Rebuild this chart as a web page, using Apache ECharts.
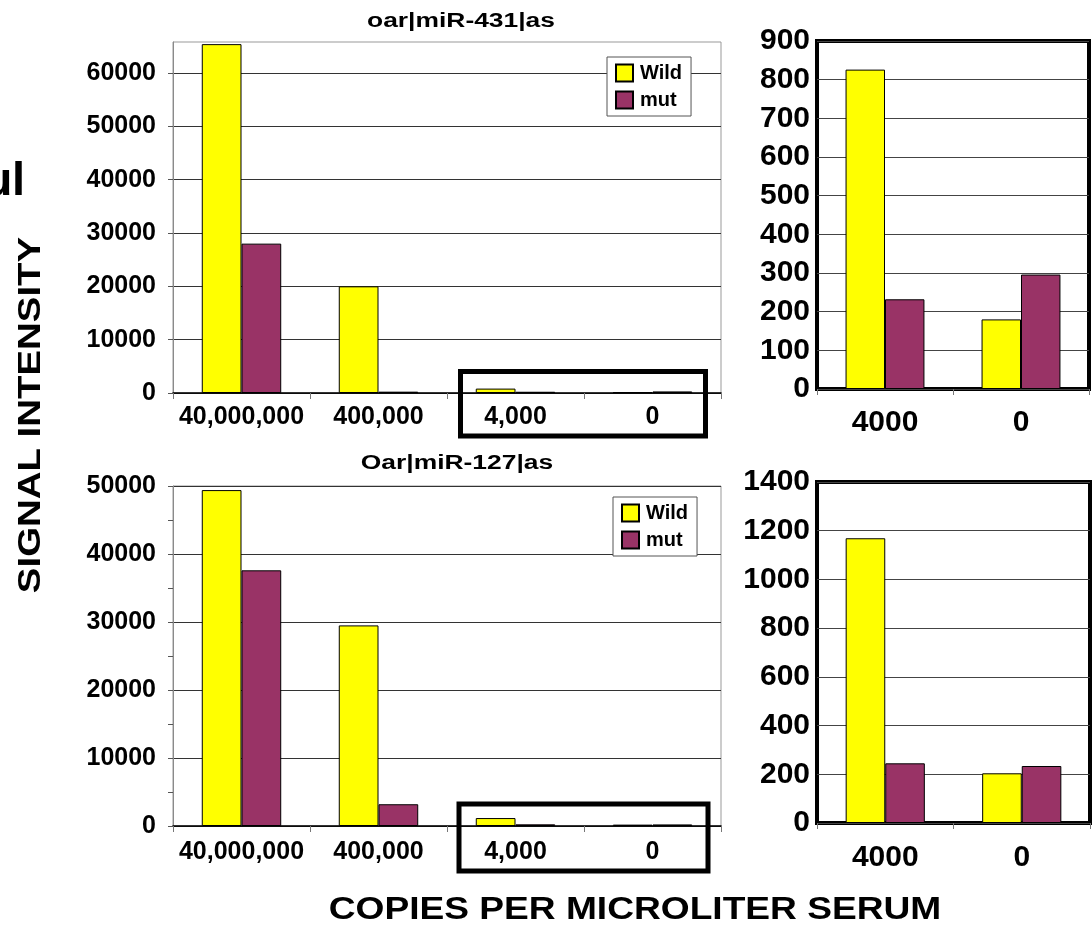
<!DOCTYPE html>
<html>
<head>
<meta charset="utf-8">
<script src="https://cdn.jsdelivr.net/npm/echarts@6/dist/echarts.min.js"></script>
<style>
html,body{margin:0;padding:0;background:#fff;}
#chart{width:1092px;height:926px;}
</style>
</head>
<body>
<div id="chart"></div>
<script>
// ---- data ----
const categoriesLeft = ['40,000,000', '400,000', '4,000', '0'];
const categoriesRight = ['4000', '0'];
const seriesNames = ['Wild', 'mut'];
const title431 = 'oar|miR-431|as';
const title127 = 'Oar|miR-127|as';
const wild431 = [65400, 20000, 826, 180];
const mut431 = [28000, 250, 232, 296];
const wild127 = [49400, 29500, 1169, 204];
const mut127 = [37600, 3200, 245, 234];
const ticks431 = [0, 10000, 20000, 30000, 40000, 50000, 60000];
const ticks127 = [0, 10000, 20000, 30000, 40000, 50000];
const yTitle = 'SIGNAL INTENSITY';
const xTitle = 'COPIES PER MICROLITER SERUM';
const unitText = 'µl';

const FONT = '"Liberation Sans", Arial, Helvetica, sans-serif';
const YELLOW = '#FFFF00';
const PLUM = '#993366';
const plain = v => String(v);

const chart = echarts.init(document.getElementById('chart'), null, {renderer: 'canvas'});

function leftY(max, ticks, minor) {
  return {
    type: 'value', min: 0, max: max,
    axisLine: {show: true, lineStyle: {color: '#8a8a8a', width: 1}},
    axisTick: {show: true, inside: false, length: 5, lineStyle: {color: '#555'}, customValues: ticks},
    minorTick: {show: !!minor, splitNumber: 2, length: 5, lineStyle: {color: '#555'}},
    axisLabel: {fontFamily: FONT, fontWeight: 'bold', fontSize: 25, color: '#000', margin: 17, customValues: ticks, formatter: plain},
    splitLine: {show: true, lineStyle: {color: '#333', width: 1}}
  };
}
function rightY(max, interval) {
  return {
    type: 'value', min: 0, max: max, interval: interval,
    axisLine: {show: false},
    axisTick: {show: false},
    axisLabel: {fontFamily: FONT, fontWeight: 'bold', fontSize: 30, color: '#000', margin: 7, formatter: plain},
    splitLine: {show: true, lineStyle: {color: '#444', width: 1}}
  };
}
function catX(data, gridIndex, fontSize, margin, lineColor, lineWidth) {
  return {
    type: 'category', data: data, gridIndex: gridIndex,
    axisLine: {show: true, lineStyle: {color: lineColor, width: lineWidth}},
    axisTick: {show: true, inside: false, length: 6, lineStyle: {color: '#777'}},
    axisLabel: {fontFamily: FONT, fontWeight: 'bold', fontSize: fontSize, color: '#000', margin: margin, interval: 0}
  };
}
function bar(name, data, color, xi, yi) {
  return {
    name: name, type: 'bar', data: data, xAxisIndex: xi, yAxisIndex: yi,
    barGap: '0%', barCategoryGap: '42%',
    itemStyle: {color: color, borderColor: '#000', borderWidth: 1},
    emphasis: {disabled: true}
  };
}
function legendAt(left, top) {
  return {
    data: seriesNames, orient: 'vertical', left: left, top: top,
    icon: 'rect', itemWidth: 17, itemHeight: 17, itemGap: 7,
    padding: [6, 9, 6, 8],
    backgroundColor: '#fff', borderColor: '#555', borderWidth: 1,
    textStyle: {fontFamily: FONT, fontWeight: 'bold', fontSize: 20, color: '#000', padding: [0, 0, 0, 2]},
    selectedMode: false
  };
}

const option = {
  animation: false,
  backgroundColor: '#fff',
  grid: [
    {left: 173, top: 42, width: 548, height: 351, show: true, borderColor: '#999', borderWidth: 1, backgroundColor: 'transparent'},
    {left: 817, top: 41, width: 272, height: 348, show: true, borderColor: '#000', borderWidth: 4, backgroundColor: 'transparent'},
    {left: 173, top: 486, width: 548, height: 340, show: true, borderColor: '#999', borderWidth: 1, backgroundColor: 'transparent'},
    {left: 817, top: 482, width: 273, height: 341, show: true, borderColor: '#000', borderWidth: 4, backgroundColor: 'transparent'}
  ],
  xAxis: [
    catX(categoriesLeft, 0, 25, 12, '#000', 1.5),
    catX(categoriesRight, 1, 30, 19, '#000', 0),
    catX(categoriesLeft, 2, 25, 14, '#000', 1.5),
    catX(categoriesRight, 3, 30, 20, '#000', 0)
  ],
  yAxis: [
    Object.assign(leftY(65800, ticks431, false), {gridIndex: 0}),
    Object.assign(rightY(900, 100), {gridIndex: 1}),
    Object.assign(leftY(50000, ticks127, true), {gridIndex: 2}),
    Object.assign(rightY(1400, 200), {gridIndex: 3})
  ],
  legend: [legendAt(607, 57), legendAt(613, 497)],
  series: [
    bar(seriesNames[0], wild431, YELLOW, 0, 0),
    bar(seriesNames[1], mut431, PLUM, 0, 0),
    bar(seriesNames[0], wild431.slice(2), YELLOW, 1, 1),
    bar(seriesNames[1], mut431.slice(2), PLUM, 1, 1),
    bar(seriesNames[0], wild127, YELLOW, 2, 2),
    bar(seriesNames[1], mut127, PLUM, 2, 2),
    bar(seriesNames[0], wild127.slice(2), YELLOW, 3, 3),
    bar(seriesNames[1], mut127.slice(2), PLUM, 3, 3)
  ],
  graphic: [
    {type: 'rect', shape: {x: 460.5, y: 371.5, width: 245, height: 64.5}, style: {fill: 'none', stroke: '#000', lineWidth: 5}, z: 100},
    {type: 'rect', shape: {x: 459, y: 804, width: 249, height: 67}, style: {fill: 'none', stroke: '#000', lineWidth: 5}, z: 100},
    {type: 'text', x: 461, y: 21, scaleX: 1.32, style: {text: title431, font: 'bold 20px ' + FONT, fill: '#000', textAlign: 'center', textVerticalAlign: 'middle'}, z: 100},
    {type: 'text', x: 457, y: 463, scaleX: 1.32, style: {text: title127, font: 'bold 20px ' + FONT, fill: '#000', textAlign: 'center', textVerticalAlign: 'middle'}, z: 100},
    {type: 'text', x: 31, y: 415, rotation: Math.PI / 2, scaleX: 1.2, style: {text: yTitle, font: 'bold 32px ' + FONT, fill: '#000', textAlign: 'center', textVerticalAlign: 'middle'}, z: 100},
    {type: 'text', x: 635, y: 910, scaleX: 1.16, style: {text: xTitle, font: 'bold 32px ' + FONT, fill: '#000', textAlign: 'center', textVerticalAlign: 'middle'}, z: 100},
    {type: 'text', x: -15, y: 206, style: {text: unitText, font: 'bold 47px ' + FONT, fill: '#000', textAlign: 'left', textVerticalAlign: 'bottom'}, z: 100}
  ]
};
chart.setOption(option);
</script>
</body>
</html>
